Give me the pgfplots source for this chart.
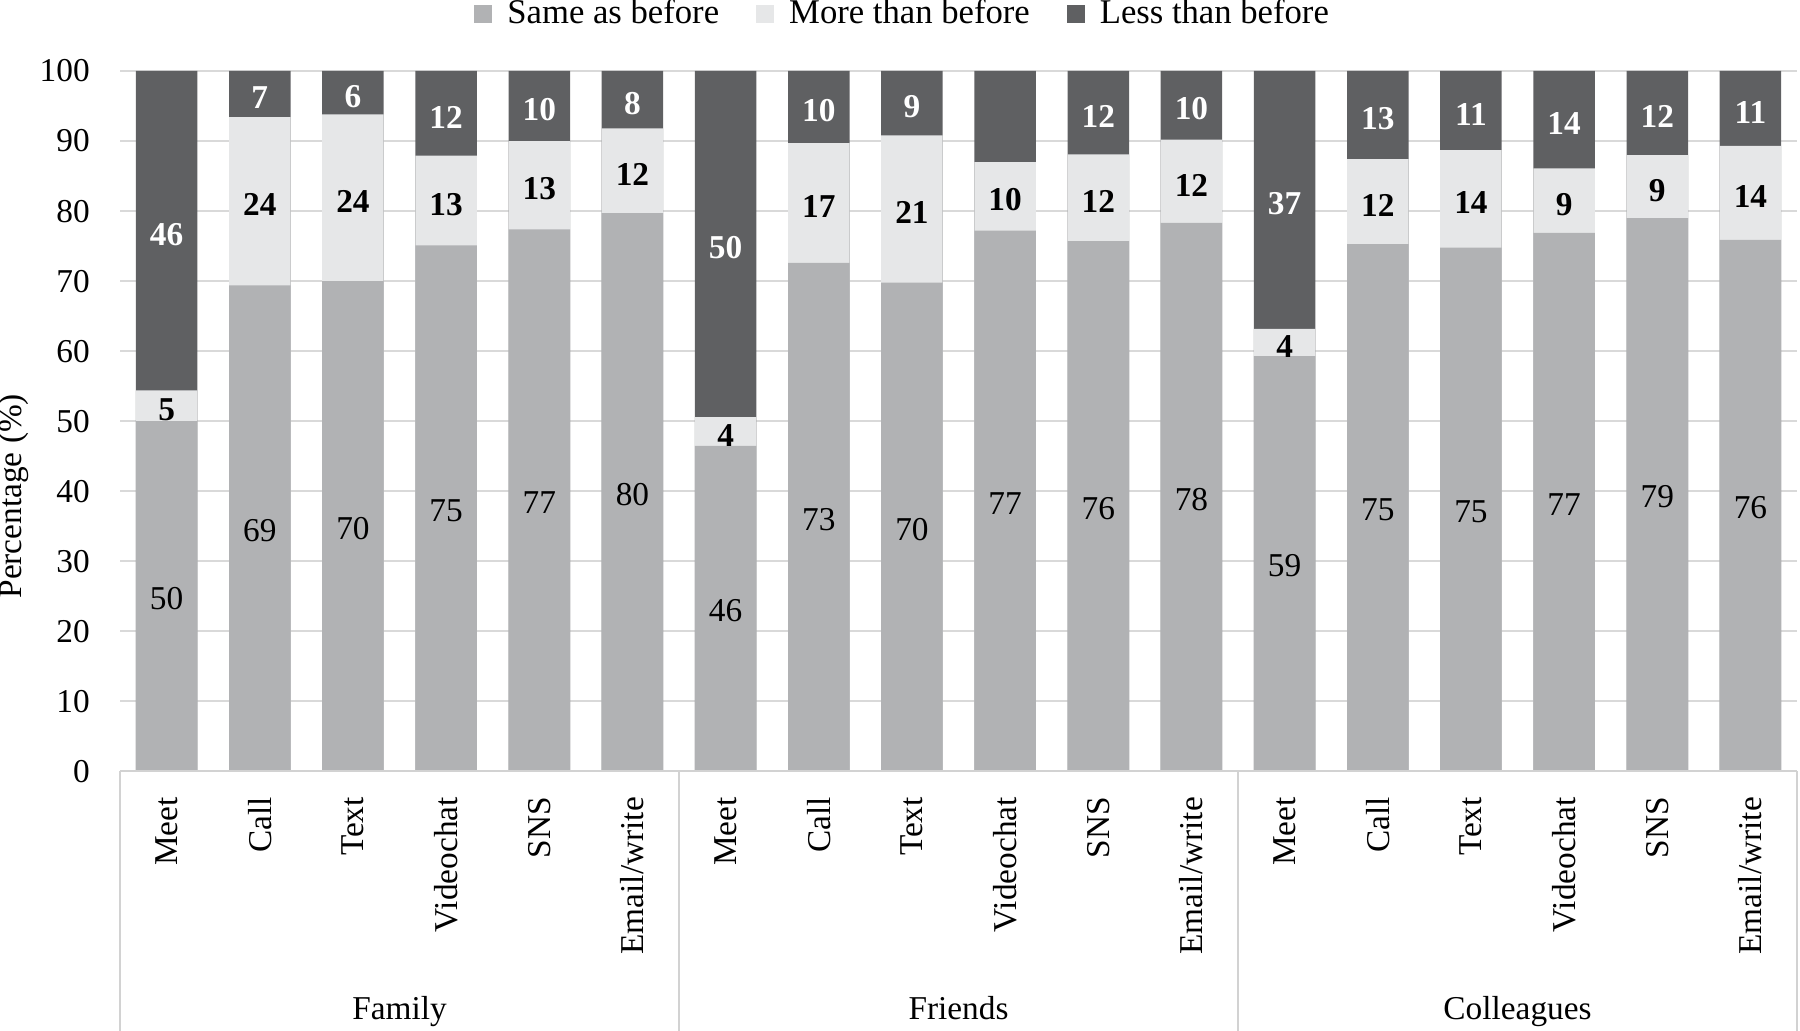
\documentclass[border=0pt]{standalone}
\usepackage{pgfplots}
\usepackage{pgfplotstable}
\pgfplotsset{compat=1.18}
\usepackage{fontspec}
\setmainfont{Liberation Serif}
\definecolor{samec}{RGB}{177,178,180}
\definecolor{morec}{RGB}{230,231,232}
\definecolor{lessc}{RGB}{95,96,98}
\definecolor{gridc}{RGB}{217,217,217}
\definecolor{linec}{RGB}{210,210,210}

\pgfplotstableread{
x same more less ls lm ll
0 50.0 4.4 45.6 50 5 46
1 69.4 24.0 6.6 69 24 7
2 70.0 23.8 6.2 70 24 6
3 75.1 12.8 12.1 75 13 12
4 77.4 12.6 10.0 77 13 10
5 79.7 12.1 8.2 80 12 8
6 46.5 4.1 49.4 46 4 50
7 72.6 17.1 10.3 73 17 10
8 69.8 21.0 9.2 70 21 9
9 77.2 9.8 13.0 77 10 {}
10 75.7 12.4 11.9 76 12 12
11 78.3 11.9 9.8 78 12 10
12 59.3 3.9 36.8 59 4 37
13 75.3 12.1 12.6 75 12 13
14 74.8 13.9 11.3 75 14 11
15 76.9 9.2 13.9 77 9 14
16 79.0 9.0 12.0 79 9 12
17 75.9 13.4 10.7 76 14 11
}\datatable

\begin{document}
\begin{tikzpicture}
\useasboundingbox (0,0) rectangle (540pt,309.3pt);
\begin{axis}[
  at={(36pt,77.85pt)}, anchor=south west,
  scale only axis, width=503.1pt, height=210.15pt,
  xmin=-0.5, xmax=17.5, ymin=0, ymax=100,
  enlargelimits=false, clip=false,
  axis line style={draw=none},
  major tick style={draw=none},
  ymajorgrids, grid style={gridc, line width=0.6pt},
  ytick={0,10,...,100},
  xtick={0,...,17},
  xticklabels={Meet,Call,Text,Videochat,SNS,Email/write,Meet,Call,Text,Videochat,SNS,Email/write,Meet,Call,Text,Videochat,SNS,Email/write},
  xticklabel style={rotate=90, anchor=east, inner sep=0pt},
  xticklabel shift=7.5pt,
  yticklabel style={inner sep=0pt},
  yticklabel shift=8.9pt,
  tick label style={font=\fontsize{10}{12}\selectfont},
  /pgf/number format/assume math mode=true,
  ylabel={Percentage (\%)},
  ylabel style={at={(rel axis cs:-0.0632,0.393)}, anchor=center, font=\fontsize{10}{12}\selectfont},
  legend columns=3,
  legend style={at={(0.468,1.081)}, anchor=center, draw=none, fill=none,
    font=\fontsize{10.4}{12}\selectfont, column sep=9pt,
    /tikz/every odd column/.style={column sep=2.5pt}},
  legend image code/.code={\fill[#1, draw=none] (0pt,-2.75pt) rectangle (5.5pt,2.75pt);},
]
\addlegendimage{fill=samec, draw=none}
\addlegendentry{Same as before}
\addlegendimage{fill=morec, draw=none}
\addlegendentry{More than before}
\addlegendimage{fill=lessc, draw=none}
\addlegendentry{Less than before}

\addplot[ybar, bar width=0.66, bar shift=0pt, fill=lessc, draw=none, forget plot]
  table[x=x, y expr=\thisrow{same}+\thisrow{more}+\thisrow{less}] {\datatable};
\addplot[ybar, bar width=0.66, bar shift=0pt, fill=morec, draw=none, forget plot]
  table[x=x, y expr=\thisrow{same}+\thisrow{more}] {\datatable};
\addplot[ybar, bar width=0.66, bar shift=0pt, fill=samec, draw=none, forget plot]
  table[x=x, y=same] {\datatable};

\addplot[draw=none, mark=none, forget plot, nodes near coords, point meta=explicit symbolic,
  nodes near coords style={anchor=center, yshift=-0.7pt, font=\fontsize{10}{12}\selectfont, text=black}]
  table[x=x, y expr=\thisrow{same}/2, meta=ls] {\datatable};
\addplot[draw=none, mark=none, forget plot, nodes near coords, point meta=explicit symbolic,
  nodes near coords style={anchor=center, yshift=-1.1pt, font=\fontsize{10}{12}\selectfont\bfseries, text=black}]
  table[x=x, y expr=\thisrow{same}+\thisrow{more}/2, meta=lm] {\datatable};
\addplot[draw=none, mark=none, forget plot, nodes near coords, point meta=explicit symbolic,
  nodes near coords style={anchor=center, yshift=-1.1pt, font=\fontsize{10}{12}\selectfont\bfseries, text=white}]
  table[x=x, y expr=\thisrow{same}+\thisrow{more}+\thisrow{less}/2, meta=ll] {\datatable};

\draw[linec, line width=0.6pt] (axis cs:-0.5,0) -- (axis cs:17.5,0);
\draw[linec, line width=0.6pt] (axis cs:-0.5,0) -- ([yshift=-77.85pt]axis cs:-0.5,0);
\draw[linec, line width=0.6pt] (axis cs:5.5,0) -- ([yshift=-77.85pt]axis cs:5.5,0);
\draw[linec, line width=0.6pt] (axis cs:11.5,0) -- ([yshift=-77.85pt]axis cs:11.5,0);
\draw[linec, line width=0.6pt] (axis cs:17.5,0) -- ([yshift=-77.85pt]axis cs:17.5,0);
\node[font=\fontsize{10}{12}\selectfont, anchor=base] at ([yshift=-74.4pt]axis cs:2.5,0) {Family};
\node[font=\fontsize{10}{12}\selectfont, anchor=base] at ([yshift=-74.4pt]axis cs:8.5,0) {Friends};
\node[font=\fontsize{10}{12}\selectfont, anchor=base] at ([yshift=-74.4pt]axis cs:14.5,0) {Colleagues};
\end{axis}
\end{tikzpicture}
\end{document}
